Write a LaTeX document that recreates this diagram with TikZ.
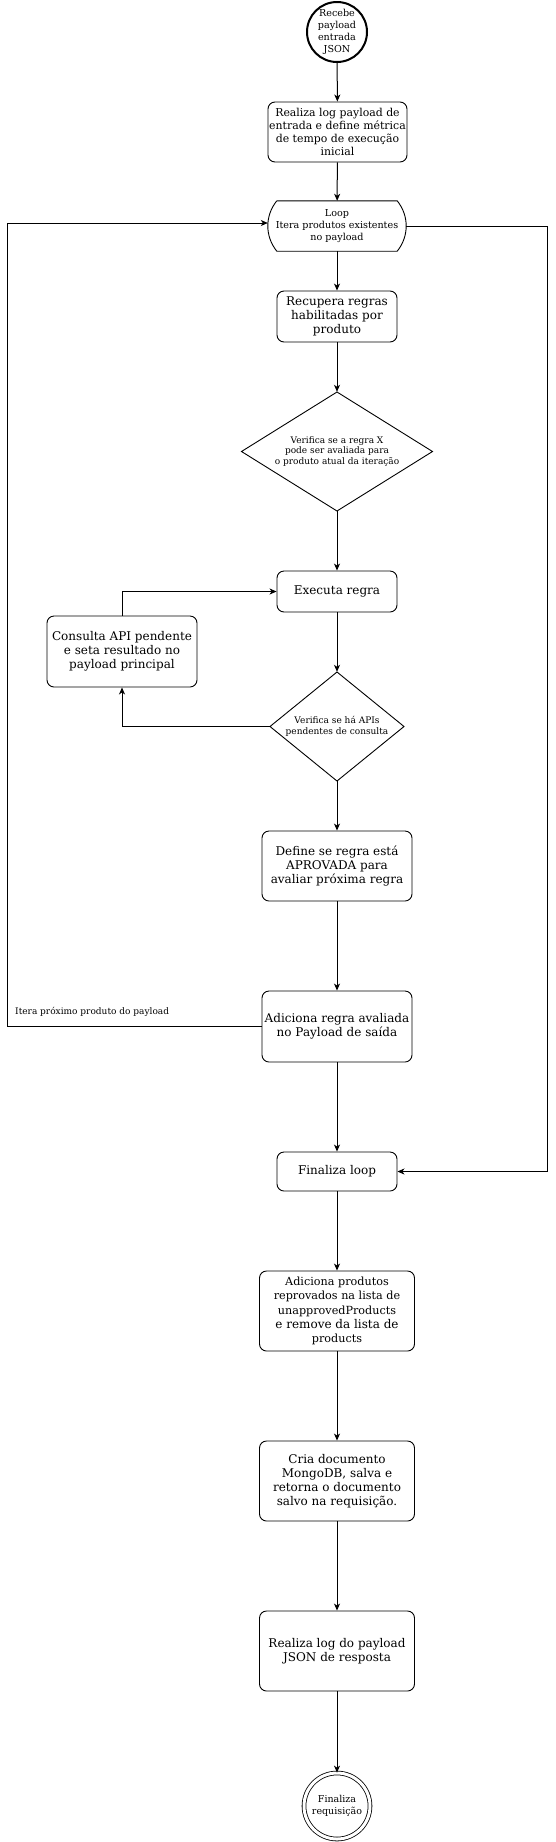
\documentclass[tikz,border=0pt]{standalone}
\usepackage{fontspec}
\setmainfont{DejaVu Serif}
\usetikzlibrary{arrows.meta}

\begin{document}
\begin{tikzpicture}[x=1pt,y=-1pt,
    >={Stealth[length=7pt,width=6pt,inset=2pt]},
    box/.style={draw, line width=0.9pt, rounded corners=7pt, align=center, inner sep=1pt, font=\fontsize{12}{14}\selectfont},
    decision/.style={inner sep=0pt, align=center, font=\fontsize{9}{10.7}\selectfont},
    flow/.style={->, line width=1pt}]

    % page
    \fill[white] (0,0) rectangle (556,1842);
    \useasboundingbox (0,0) rectangle (556,1842);

    % start
    \node[draw, circle, line width=2pt, minimum size=60pt, inner sep=0pt, align=center, font=\fontsize{9.6}{11.9}\selectfont] (start) at (337,32) {Recebe\\payload\\entrada\\JSON};

    % input log
    \node[box, minimum width=139pt, minimum height=60pt, font=\fontsize{10.9}{12.9}\selectfont] (logIn) at (337.5,132) {Realiza log payload de\\entrada e define métrica\\de tempo de execução\\inicial};

    % loop
    \node[minimum width=138pt, minimum height=50pt, inner sep=0pt, align=center, font=\fontsize{9.6}{12}\selectfont] (loop) at (337,226) {Loop\\Itera produtos existentes\\no payload};
    \draw[line width=0.9pt] ([xshift=9pt]loop.north west) -- ([xshift=-9pt]loop.north east)
        .. controls +(12,15) and +(12,-15) .. ([xshift=-9pt]loop.south east)
        -- ([xshift=9pt]loop.south west)
        .. controls +(-12,-15) and +(-12,15) .. ([xshift=9pt]loop.north west);

    % rules
    \node[box, minimum width=120pt, minimum height=51pt] (rules) at (337,316.5) {Recupera regras\\habilitadas por\\produto};
    \node[decision, minimum width=191pt, minimum height=119pt] (canEval) at (337,451.5) {Verifica se a regra X\\pode ser avaliada para\\o produto atual da iteração};
    \draw[line width=0.9pt] (canEval.center) ++(0,-59.5) -- ++(95.5,59.5) -- ++(-95.5,59.5) -- ++(-95.5,-59.5) -- cycle;
    \node[box, minimum width=120pt, minimum height=41pt] (runRule) at (337,591.5) {Executa regra};

    % pending APIs
    \node[box, minimum width=150pt, minimum height=71pt] (callApi) at (122,651.5) {Consulta API pendente\\e seta resultado no\\payload principal};
    \node[decision, minimum width=134pt, minimum height=109pt, font=\fontsize{9}{11}\selectfont] (pending) at (337,726.5) {Verifica se há APIs\\pendentes de consulta};
    \draw[line width=0.9pt] (pending.center) ++(0,-54.5) -- ++(67,54.5) -- ++(-67,54.5) -- ++(-67,-54.5) -- cycle;

    % result
    \node[box, minimum width=150pt, minimum height=70pt] (approve) at (337,866) {Define se regra está\\APROVADA para\\avaliar próxima regra};
    \node[box, minimum width=150pt, minimum height=71pt] (addRule) at (337,1026.5) {Adiciona regra avaliada\\no Payload de saída};
    \node[box, minimum width=120pt, minimum height=39pt] (endLoop) at (337,1171.5) {Finaliza loop};

    % output
    \node[box, minimum width=155pt, minimum height=80pt, font=\fontsize{11.2}{14.3}\selectfont] (reject) at (337,1311) {Adiciona produtos\\reprovados na lista de\\unapprovedProducts\\ \fontsize{12}{14.3}\selectfont e remove da lista de\\products};
    \node[box, minimum width=155pt, minimum height=80pt] (mongo) at (337,1481) {Cria documento\\MongoDB, salva e\\retorna o documento\\salvo na requisição.};
    \node[box, minimum width=155pt, minimum height=80pt] (logOut) at (337,1651) {Realiza log do payload\\JSON de resposta};

    % end
    \node[draw, circle, double, double distance=3pt, line width=0.8pt, minimum size=66pt, inner sep=0pt, align=center, font=\fontsize{9.5}{11.9}\selectfont] (finish) at (337,1806) {Finaliza\\requisição};

    % bends
    \coordinate (backTop) at (7,223);
    \coordinate (backBot) at (7,1026.5);
    \coordinate (rightX) at (547,0);

    % main flow
    \draw[flow] (start) -- (logIn);
    \draw[flow] (logIn) -- (loop);
    \draw[flow] (loop) -- (rules);
    \draw[flow] (rules) -- (canEval);
    \draw[flow] (canEval) -- (runRule);
    \draw[flow] (runRule) -- (pending);
    \draw[flow] (pending) -- (approve);
    \draw[flow] (approve) -- (addRule);
    \draw[flow] (addRule) -- (endLoop);
    \draw[flow] (endLoop) -- (reject);
    \draw[flow] (reject) -- (mongo);
    \draw[flow] (mongo) -- (logOut);
    \draw[flow] (logOut) -- (finish);

    % api loop
    \draw[flow] (pending.west) -| (callApi.south);
    \draw[flow] (callApi.north) |- (runRule.west);

    % next product
    \draw[flow] (addRule.west) -- (backBot) -- (backTop) -- (backTop -| loop.west);
    \node[anchor=west, inner sep=0pt, font=\fontsize{9}{10}\selectfont] (nextLbl) at (15,1012) {Itera próximo produto do payload};

    % no more products
    \draw[flow] (loop.east) -- (loop.east -| rightX) |- (endLoop.east);
\end{tikzpicture}
\end{document}
